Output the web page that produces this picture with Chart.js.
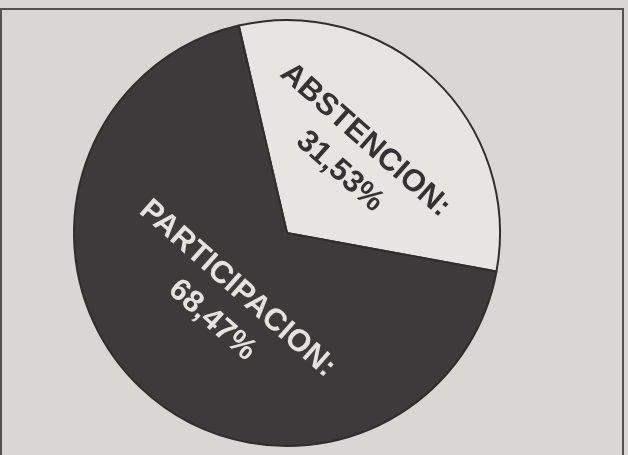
<!DOCTYPE html>
<html>
<head>
<meta charset="utf-8">
<script src="https://cdn.jsdelivr.net/npm/chart.js@4"></script>
<style>
    html, body { margin: 0; padding: 0; background: #d8d7d3; }
    #wrap { position: relative; width: 628px; height: 455px; overflow: hidden; }
    #frame {
        position: absolute; left: 0; top: 8px; width: 620px; height: 470px;
        border: 2px solid #545352; border-bottom: none;
    }
    #pie { position: absolute; left: 0; top: 0; }
</style>
</head>
<body>
<div id="wrap">
    <div id="frame"></div>
    <canvas id="pie" width="628" height="455"></canvas>
</div>
<script>
const categories = ["ABSTENCION:", "PARTICIPACION:"];
const values = [31.53, 68.47];
const valueLabels = ["31,53%", "68,47%"];

const sliceColors = ["#e6e5e1", "#3c3a3a"];
const textColors = ["#343333", "#e4e3e0"];

// where each text line sits inside its slice: fraction of radius, angle shift (deg)
const linePlacement = [
    [{ frac: 0.57, shift: -3.5 }, { frac: 0.38, shift: -3 }],
    [{ frac: 0.35, shift: -2 }, { frac: 0.54, shift: -3 }]
];

const sliceText = {
    id: "sliceText",
    afterDatasetsDraw(chart) {
        const ctx = chart.ctx;
        const arcs = chart.getDatasetMeta(0).data;
        ctx.save();
        ctx.font = "bold 31px 'Liberation Sans', Arial, sans-serif";
        ctx.textAlign = "center";
        ctx.textBaseline = "middle";
        arcs.forEach((arc, i) => {
            const p = arc.getProps(["x", "y", "startAngle", "endAngle", "outerRadius"], true);
            const mid = (p.startAngle + p.endAngle) / 2;
            const texts = [categories[i], valueLabels[i]];
            texts.forEach((t, j) => {
                const pl = linePlacement[i][j];
                const a = mid + pl.shift * Math.PI / 180;
                const tx = p.x + Math.cos(a) * p.outerRadius * pl.frac;
                const ty = p.y + Math.sin(a) * p.outerRadius * pl.frac;
                ctx.save();
                ctx.translate(tx, ty);
                ctx.rotate(41.5 * Math.PI / 180);
                ctx.fillStyle = textColors[i];
                ctx.fillText(t, 0, 0);
                ctx.restore();
            });
        });
        ctx.restore();
    }
};

new Chart(document.getElementById("pie"), {
    type: "pie",
    data: {
        labels: categories,
        datasets: [{
            data: values,
            backgroundColor: sliceColors,
            borderColor: "#2f2e2e",
            borderWidth: 2
        }]
    },
    options: {
        responsive: false,
        animation: false,
        rotation: -13.1,
        layout: { padding: { left: 73, right: 127, top: 19, bottom: 8 } },
        plugins: {
            legend: { display: false },
            tooltip: { enabled: false }
        }
    },
    plugins: [sliceText]
});
</script>
</body>
</html>
